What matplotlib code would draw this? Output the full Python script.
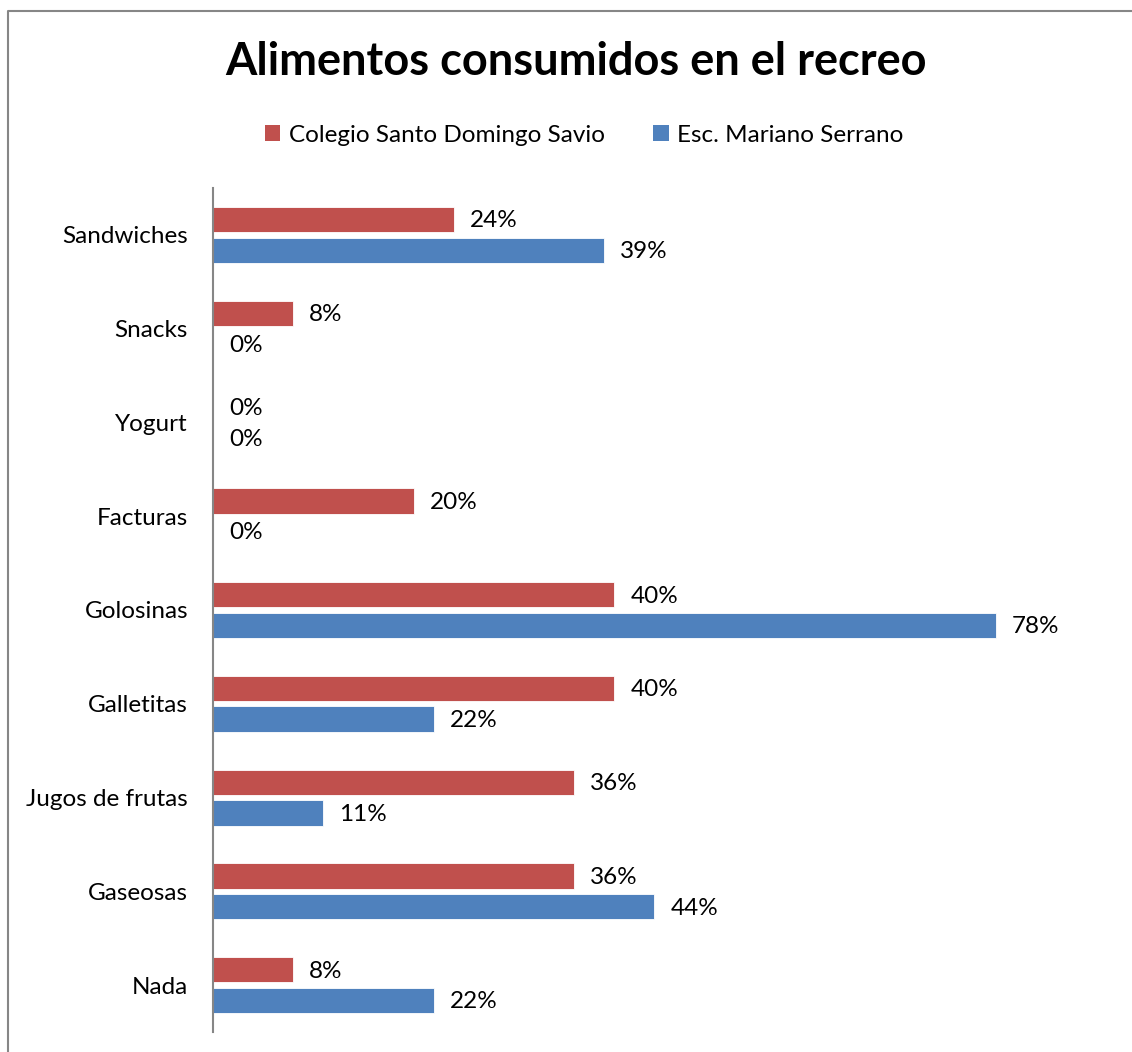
import matplotlib
matplotlib.use('Agg')
from matplotlib import pyplot as plt
from matplotlib.lines import Line2D
from matplotlib.patches import Patch
import numpy as np

plt.rcParams['font.family'] = ['Lato', 'DejaVu Sans']

# Datos de la encuesta (porcentajes)
categorias = ['Sandwiches', 'Snacks', 'Yogurt', 'Facturas', 'Golosinas',
              'Galletitas', 'Jugos de frutas', 'Gaseosas', 'Nada']
santo_domingo = [24, 8, 0, 20, 40, 40, 36, 36, 8]
mariano_serrano = [39, 0, 0, 0, 78, 22, 11, 44, 22]

rojo = '#C0504D'
azul = '#4F81BD'
gris = '#868686'

W, H = 1132, 1052
fig = plt.figure(figsize=(W / 100, H / 100), dpi=100)

# Marco del grafico
fig.add_artist(Line2D([8 / W, 8 / W, 1.0], [0.0, 1 - 11 / H, 1 - 11 / H],
                      color=gris, lw=1.5, transform=fig.transFigure))

ax = fig.add_axes([213 / W, 1 - 1032 / H, (1116 - 213) / W, (1032 - 188) / H])

y = np.arange(len(categorias))
alto = 0.27
desp = 0.163

b1 = ax.barh(y - desp, santo_domingo, height=alto, color=rojo,
             edgecolor='white', linewidth=0.6)
b2 = ax.barh(y + desp, mariano_serrano, height=alto, color=azul,
             edgecolor='white', linewidth=0.6)

for barras, valores in [(b1, santo_domingo), (b2, mariano_serrano)]:
    for barra, v in zip(barras, valores):
        yc = barra.get_y() + barra.get_height() / 2
        ax.annotate(f'{v}%', (v, yc), xytext=(11.5, -1), textcoords='offset points',
                    va='center', ha='left', fontsize=17.5)

ax.set_xlim(0, 90)
ax.set_ylim(len(categorias) - 0.5, -0.5)
ax.set_yticks(y)
ax.set_yticklabels(categorias, fontsize=17.5)
ax.set_xticks([])
ax.tick_params(axis='y', length=0, pad=18)
for lado in ['top', 'right', 'bottom']:
    ax.spines[lado].set_visible(False)
ax.spines['left'].set_color(gris)
ax.spines['left'].set_linewidth(1.5)

fig.text(576 / W, 1 - 62 / H, 'Alimentos consumidos en el recreo',
         ha='center', va='center', fontsize=32.5, fontweight='bold')

handles = [Patch(facecolor=rojo, label='Colegio Santo Domingo Savio'),
           Patch(facecolor=azul, label='Esc. Mariano Serrano')]
fig.legend(handles=handles, loc='center', bbox_to_anchor=(584 / W, 1 - 135 / H),
           ncol=2, frameon=False, fontsize=17.5, handlelength=0.65, handleheight=0.65,
           handletextpad=0.33, columnspacing=2.0)

plt.savefig('out.png', dpi=100)
plt.close()
